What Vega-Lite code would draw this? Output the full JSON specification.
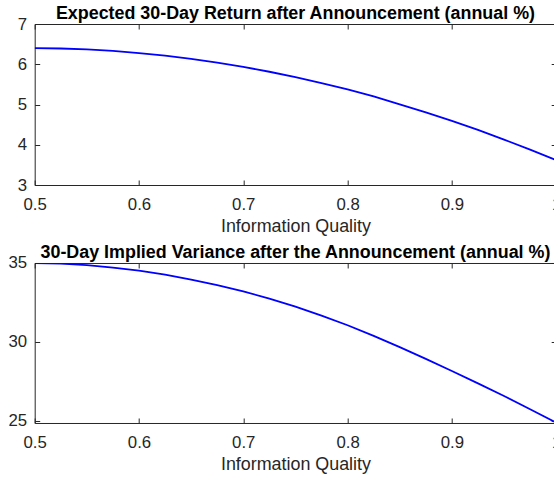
{
  "$schema": "https://vega.github.io/schema/vega-lite/v6.json",
  "padding": {"left": 7.7, "top": 4, "right": 0, "bottom": 0},
  "spacing": 78,
  "bounds": "flush",
  "background": "white",
  "config": {
    "view": {"stroke": null},
    "font": "Liberation Sans",
    "axis": {
      "grid": false,
      "domainColor": "#262626",
      "domainWidth": 1,
      "tickColor": "#262626",
      "tickWidth": 1,
      "tickSize": -5,
      "labelColor": "#262626",
      "labelFont": "Liberation Sans",
      "labelFontSize": 16.8,
      "labelFlush": false,
      "labelOverlap": false,
      "titleFont": "Liberation Sans",
      "titleFontSize": 17.9,
      "titleFontWeight": "normal",
      "titleColor": "#262626"
    },
    "title": {
      "font": "Liberation Sans",
      "fontSize": 17.9,
      "fontWeight": "bold",
      "color": "#000000",
      "anchor": "middle",
      "frame": "group",
      "baseline": "alphabetic",
      "offset": -6.5
    }
  },
  "vconcat": [
    {
      "width": 521.5,
      "height": 161,
      "title": "Expected 30-Day Return after Announcement (annual %)",
      "data": {"values": [
        {"q": 0.5, "v": 6.40}, {"q": 0.525, "v": 6.392}, {"q": 0.55, "v": 6.369}, {"q": 0.575, "v": 6.331},
        {"q": 0.6, "v": 6.279}, {"q": 0.625, "v": 6.214}, {"q": 0.65, "v": 6.134}, {"q": 0.675, "v": 6.041},
        {"q": 0.7, "v": 5.934}, {"q": 0.725, "v": 5.814}, {"q": 0.75, "v": 5.681}, {"q": 0.775, "v": 5.533},
        {"q": 0.8, "v": 5.373}, {"q": 0.825, "v": 5.200}, {"q": 0.85, "v": 5.005}, {"q": 0.875, "v": 4.805},
        {"q": 0.9, "v": 4.595}, {"q": 0.925, "v": 4.368}, {"q": 0.95, "v": 4.128}, {"q": 0.975, "v": 3.878},
        {"q": 1.0, "v": 3.62}
      ]},
      "layer": [
        {
          "mark": {"type": "line", "color": "#0000ff", "strokeWidth": 1.8, "clip": true},
          "encoding": {
            "x": {"field": "q", "type": "quantitative", "scale": {"domain": [0.5, 1], "nice": false, "zero": false},
                  "axis": {"orient": "bottom", "values": [0.5, 0.6, 0.7, 0.8, 0.9, 1], "format": "~g", "title": "Information Quality", "labelPadding": 16.7, "titlePadding": 4}},
            "y": {"field": "v", "type": "quantitative", "scale": {"domain": [3, 7], "nice": false, "zero": false},
                  "axis": {"orient": "left", "values": [3, 4, 5, 6, 7], "title": null, "labelPadding": 13}}
          }
        },
        {
          "mark": {"type": "line", "strokeOpacity": 0},
          "encoding": {
            "x": {"field": "q", "type": "quantitative", "scale": {"domain": [0.5, 1], "nice": false, "zero": false},
                  "axis": {"orient": "top", "values": [0.5, 0.6, 0.7, 0.8, 0.9, 1], "labels": false, "title": null}},
            "y": {"field": "v", "type": "quantitative", "scale": {"domain": [3, 7], "nice": false, "zero": false},
                  "axis": {"orient": "right", "values": [3, 4, 5, 6, 7], "labels": false, "title": null}}
          }
        }
      ],
      "resolve": {"scale": {"x": "independent", "y": "independent"}}
    },
    {
      "width": 521.5,
      "height": 160,
      "title": "30-Day Implied Variance after the Announcement (annual %)",
      "data": {"values": [
        {"q": 0.5, "v": 35.00}, {"q": 0.525, "v": 34.96}, {"q": 0.55, "v": 34.86}, {"q": 0.575, "v": 34.71},
        {"q": 0.6, "v": 34.52}, {"q": 0.625, "v": 34.26}, {"q": 0.65, "v": 33.95}, {"q": 0.675, "v": 33.59},
        {"q": 0.7, "v": 33.20}, {"q": 0.725, "v": 32.74}, {"q": 0.75, "v": 32.23}, {"q": 0.775, "v": 31.66},
        {"q": 0.8, "v": 31.05}, {"q": 0.825, "v": 30.38}, {"q": 0.85, "v": 29.66}, {"q": 0.875, "v": 28.92},
        {"q": 0.9, "v": 28.15}, {"q": 0.925, "v": 27.36}, {"q": 0.95, "v": 26.56}, {"q": 0.975, "v": 25.72},
        {"q": 1.0, "v": 24.87}
      ]},
      "layer": [
        {
          "mark": {"type": "line", "color": "#0000ff", "strokeWidth": 1.8, "clip": true},
          "encoding": {
            "x": {"field": "q", "type": "quantitative", "scale": {"domain": [0.5, 1], "nice": false, "zero": false},
                  "axis": {"orient": "bottom", "values": [0.5, 0.6, 0.7, 0.8, 0.9, 1], "format": "~g", "title": "Information Quality", "labelPadding": 16.7, "titlePadding": 4}},
            "y": {"field": "v", "type": "quantitative", "scale": {"domain": [24.85, 35], "nice": false, "zero": false},
                  "axis": {"orient": "left", "values": [25, 30, 35], "title": null, "labelPadding": 13}}
          }
        },
        {
          "mark": {"type": "line", "strokeOpacity": 0},
          "encoding": {
            "x": {"field": "q", "type": "quantitative", "scale": {"domain": [0.5, 1], "nice": false, "zero": false},
                  "axis": {"orient": "top", "values": [0.5, 0.6, 0.7, 0.8, 0.9, 1], "labels": false, "title": null}},
            "y": {"field": "v", "type": "quantitative", "scale": {"domain": [24.85, 35], "nice": false, "zero": false},
                  "axis": {"orient": "right", "values": [25, 30, 35], "labels": false, "title": null}}
          }
        }
      ],
      "resolve": {"scale": {"x": "independent", "y": "independent"}}
    }
  ]
}
